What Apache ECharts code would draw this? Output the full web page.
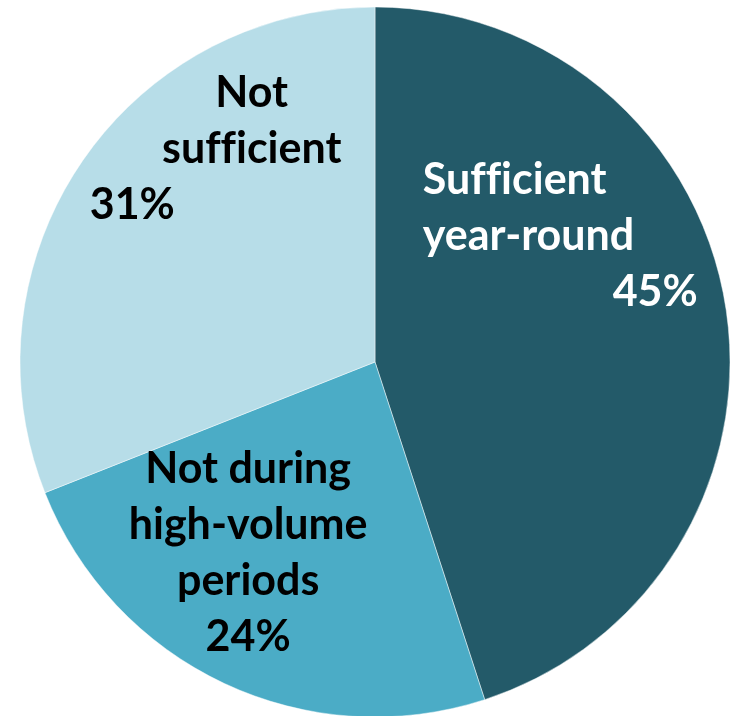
<!DOCTYPE html>
<html>
<head>
<meta charset="utf-8">
<script src="https://cdn.jsdelivr.net/npm/echarts@6/dist/echarts.min.js"></script>
<style>
html,body{margin:0;padding:0;background:#fff;}
#chart{width:730px;height:716px;}
</style>
</head>
<body>
<div id="chart"></div>
<script>
// ---- data ----
const categories = ['Sufficient year-round', 'Not during high-volume periods', 'Not sufficient'];
const values = [45, 24, 31];
const labelLines = [['Suf\u200Cf\u200Cicient', 'year-round'], ['Not during', 'high-volume', 'periods'], ['Not', 'suf\u200Cf\u200Cicient']];

// ---- style ----
const colors = ['#235a69', '#4bacc6', '#b7dde8'];
const textColors = ['#ffffff', '#000000', '#000000'];
const FONT = 'Lato';
const FS = 43;
const LH = 56;
const labelShift = [[7, -98], [-50, 28], [26, -111]];

function tok(align, extra) {
  return Object.assign({ align: align, fontFamily: FONT, fontWeight: 'bold', fontSize: FS, lineHeight: LH }, extra || {});
}

const itemLabels = [
  {
    formatter: p => labelLines[0].map(s => '{l|' + s + '}').join('\n') + '\n{r|' + p.value + '%}',
    rich: { l: tok('left', { color: textColors[0] }), r: tok('right', { color: textColors[0], width: 275 }) }
  },
  {
    formatter: p => labelLines[1].map(s => '{c|' + s + '}').join('\n') + '\n{c|' + p.value + '%}',
    rich: { c: tok('center', { color: textColors[1] }) }
  },
  {
    formatter: p => labelLines[2].map(s => '{c|' + s + '}').join('\n') + '\n{l|' + p.value + '%}',
    rich: { c: tok('center', { color: textColors[2] }), l: tok('left', { color: textColors[2], width: 324 }) }
  }
];

const data = categories.map((name, i) => ({
  name: name,
  value: values[i],
  itemStyle: { color: colors[i] },
  label: Object.assign({ show: true, position: 'inside', color: textColors[i], fontFamily: FONT, fontWeight: 'bold', fontSize: FS, lineHeight: LH }, itemLabels[i])
}));

const chart = echarts.init(document.getElementById('chart'), null, { renderer: 'canvas' });
chart.setOption({
  animation: false,
  backgroundColor: '#ffffff',
  series: [{
    type: 'pie',
    center: [375, 362],
    radius: [0, 355],
    startAngle: 90,
    clockwise: true,
    avoidLabelOverlap: false,
    emphasis: { disabled: true },
    itemStyle: { borderColor: 'rgba(255,255,255,0.45)', borderWidth: 1 },
    label: { show: true, position: 'inside' },
    labelLine: { show: false },
    labelLayout: function (params) {
      const s = labelShift[params.dataIndex];
      return { dx: s[0], dy: s[1] };
    },
    data: data
  }]
});
</script>
</body>
</html>
